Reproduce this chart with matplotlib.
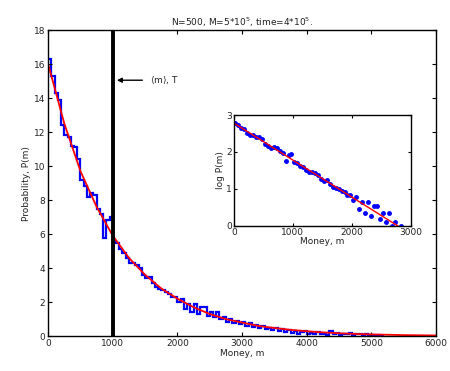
import numpy as np
import matplotlib
matplotlib.use('Agg')
import matplotlib.pyplot as plt

# === DATA ===
bin_width = 50
hist_p = [16.3, 15.3, 14.3, 13.9, 12.4, 11.8, 11.7, 11.2, 11.1, 10.4,
          9.2, 8.8, 8.2, 8.4, 8.3, 7.5, 7.2, 5.8, 6.8, 7.0,
          5.6, 5.5, 5.1, 4.9, 4.6, 4.3, 4.3, 4.2, 4.0, 3.6,
          3.4, 3.5, 3.1, 2.9, 2.8, 2.7, 2.6, 2.5, 2.3, 2.3,
          2.0, 2.2, 1.6, 1.9, 1.4, 1.9, 1.3, 1.7, 1.7, 1.2,
          1.4, 1.1, 1.4, 1.0, 1.1, 0.85, 1.0, 0.75, 0.9, 0.7,
          0.85, 0.6, 0.8, 0.55, 0.65, 0.45, 0.6, 0.4, 0.5, 0.35,
          0.45, 0.3, 0.4, 0.25, 0.35, 0.2, 0.3, 0.15, 0.25, 0.3,
          0.15, 0.2, 0.1, 0.25, 0.1, 0.15, 0.05, 0.3, 0.1, 0.2,
          0.05, 0.15, 0.1, 0.2, 0.05, 0.1, 0.15, 0.05, 0.1, 0.05,
          0.08, 0.02, 0.05, 0.02]

fit_m = [0, 250, 500, 750, 1000, 1250, 1500, 1750, 2000, 2250, 2500, 2750,
         3000, 3250, 3500, 3750, 4000, 4250, 4500, 4750, 5000, 5250, 5500,
         5750, 6000]
fit_p = [16.0, 12.5, 9.7, 7.6, 5.9, 4.6, 3.6, 2.8, 2.2, 1.7, 1.3, 1.0,
         0.8, 0.6, 0.48, 0.37, 0.29, 0.22, 0.17, 0.13, 0.10, 0.08, 0.06,
         0.05, 0.04]

mean_m = 1000

inset_fit_m = [0, 2780]
inset_fit_logp = [2.78, 0.0]

# === FIGURE ===
fig = plt.figure(figsize=(4.5, 3.71), dpi=100)
fig.patch.set_facecolor('white')
TXT = '#222222'
FS = 6.5

ax = fig.add_axes([0.107, 0.094, 0.862, 0.825])
edges = np.arange(len(hist_p) + 1) * bin_width
ax.stairs(hist_p, edges, color='#0000ff', linewidth=1.6, baseline=None)
ax.plot(fit_m, fit_p, color='#ff0000', linewidth=1.3)
ax.axvline(mean_m, color='black', linewidth=2.8)

ax.annotate('', xy=(1020, 15.05), xytext=(1500, 15.05),
            arrowprops=dict(arrowstyle='-|>', color='black', lw=1.0,
                            mutation_scale=7))
ax.text(1580, 15.05, r'$\langle$m$\rangle$, T', fontsize=FS, color=TXT,
        va='center', ha='left')

ax.set_xlim(0, 6000)
ax.set_ylim(0, 18)
ax.set_xticks(range(0, 6001, 1000))
ax.set_yticks(range(0, 19, 2))
ax.tick_params(direction='in', top=True, right=True, length=3, width=0.8,
               labelsize=FS, labelcolor=TXT, pad=2)
for s in ax.spines.values():
    s.set_linewidth(1.0)
ax.set_xlabel('Money, m', fontsize=FS, color=TXT, labelpad=1)
ax.set_ylabel('Probability, P(m)', fontsize=FS, color=TXT, labelpad=2)
ax.set_title(r'N=500, M=5*10$^5$, time=4*10$^5$.', fontsize=FS, color=TXT,
             pad=3)

# === INSET ===
ins = fig.add_axes([0.52, 0.391, 0.393, 0.299])
centers = edges[:-1] + bin_width / 2
hist_arr = np.array(hist_p)
keep = (centers < 3000) & (hist_arr > 0)
ins.plot(centers[keep], np.log(hist_arr[keep]), linestyle='none',
         marker='.', markersize=5, color='#0000ff')
ins.plot(inset_fit_m, inset_fit_logp, color='#ff0000', linewidth=1.0)
ins.set_xlim(0, 3000)
ins.set_ylim(0, 3)
ins.set_xticks([0, 1000, 2000, 3000])
ins.set_yticks([0, 1, 2, 3])
ins.tick_params(direction='in', top=True, right=True, length=2.5, width=0.8,
                labelsize=FS, labelcolor=TXT, pad=1.5)
for s in ins.spines.values():
    s.set_linewidth(1.0)
ins.set_xlabel('Money, m', fontsize=FS, color=TXT, labelpad=0)
ins.set_ylabel('log P(m)', fontsize=FS, color=TXT, labelpad=1)

fig.savefig('out.png', dpi=100, facecolor='white')
